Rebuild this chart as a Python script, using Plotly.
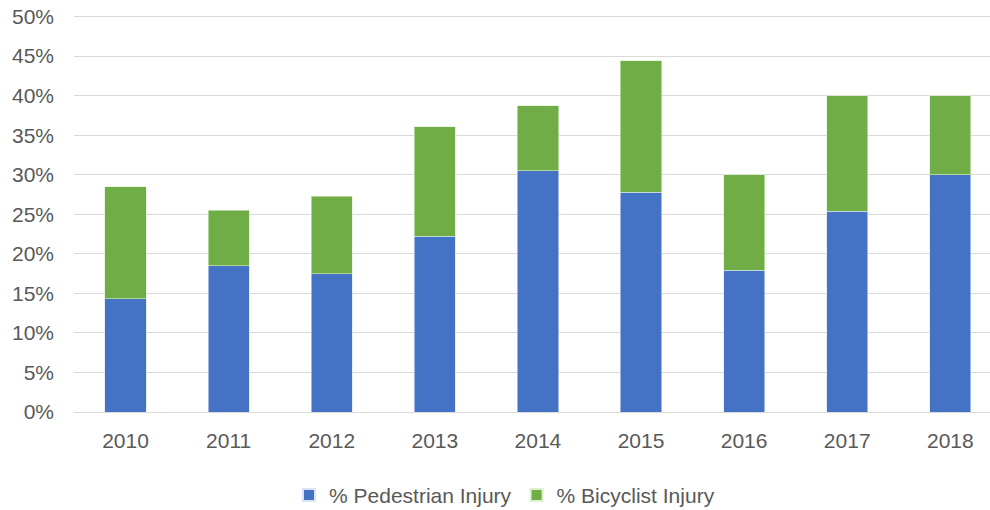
import plotly.graph_objects as go

years = ["2010", "2011", "2012", "2013", "2014", "2015", "2016", "2017", "2018"]
pedestrian = [0.143, 0.185, 0.175, 0.222, 0.305, 0.278, 0.179, 0.254, 0.300]
total = [0.285, 0.255, 0.273, 0.361, 0.3875, 0.444, 0.300, 0.400, 0.400]
bicyclist = [round(t - p, 4) for t, p in zip(total, pedestrian)]

font_family = "Liberation Sans"
gray = "#595959"

fig = go.Figure()
fig.add_trace(go.Bar(
    x=years, y=pedestrian, name="% Pedestrian Injury",
    marker=dict(color="#4472C4", line=dict(color="#dbe4f5", width=0.6)),
    width=0.4,
))
fig.add_trace(go.Bar(
    x=years, y=bicyclist, name="% Bicyclist Injury",
    marker=dict(color="#70AD47", line=dict(color="#dcefd0", width=0.6)),
    width=0.4,
))

fig.update_layout(
    barmode="stack",
    width=990, height=510,
    margin=dict(l=74, r=0, t=15, b=98, autoexpand=False),
    paper_bgcolor="white", plot_bgcolor="white",
    font=dict(family=font_family, size=21, color=gray),
    showlegend=True,
    legend=dict(orientation="h", x=0.47, xanchor="center", y=-0.21, yanchor="middle",
                font=dict(size=21, color=gray), traceorder="normal",
                itemsizing="constant"),
    xaxis=dict(
        type="category", range=[-0.5, 8.385], automargin=False,
        showgrid=False, showline=True, linecolor="#d9d9d9", linewidth=1,
        ticks="", tickfont=dict(size=21, color=gray), ticklabelstandoff=10,
        fixedrange=True,
    ),
    yaxis=dict(
        range=[0, 0.502], dtick=0.05, tickformat=".0%", automargin=False,
        showgrid=True, gridcolor="#d9d9d9", gridwidth=1,
        zeroline=False, showline=False, ticks="", ticklabeloverflow="allow",
        tickfont=dict(size=21, color=gray), ticklabelstandoff=19,
    ),
)

fig.write_html("out.html", config={"displayModeBar": False},
               post_script="document.body.style.margin='0';")
